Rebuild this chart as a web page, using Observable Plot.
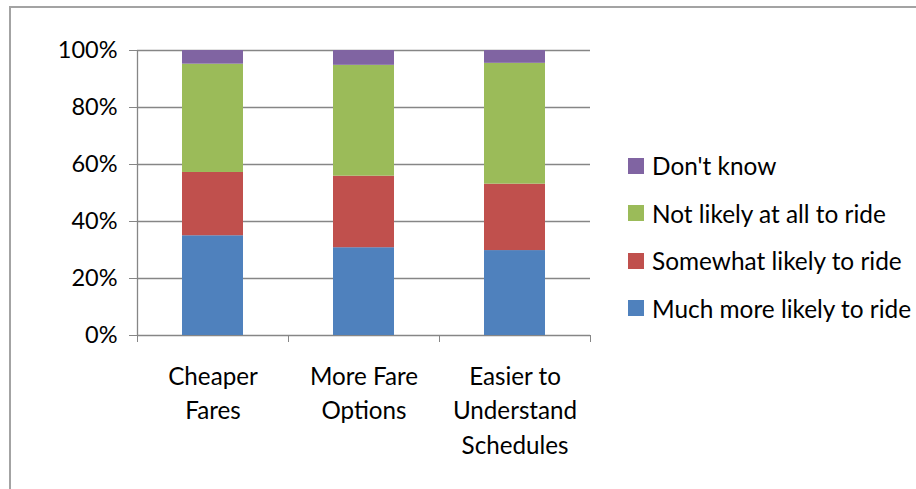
<!DOCTYPE html>
<html>
<head>
<meta charset="utf-8">
<script src="https://cdn.jsdelivr.net/npm/d3@7"></script>
<script src="https://cdn.jsdelivr.net/npm/@observablehq/plot@0.6"></script>
<style>
  html, body { margin: 0; padding: 0; background: #fff; }
  #chart { position: relative; width: 916px; height: 489px; overflow: hidden; font-family: Lato, "Open Sans", sans-serif; }
  #border { position: absolute; left: 9px; top: 6px; width: 1000px; height: 600px; border-top: 2px solid #a3a3a3; border-left: 2px solid #a3a3a3; }
  #chart svg { position: absolute; left: 0; top: 0; }
  #legend { position: absolute; left: 628px; top: 142px; }
  .item { display: flex; align-items: center; height: 47.5px; font-size: 24.4px; color: #000; white-space: nowrap; }
  .sw { width: 16px; height: 16px; margin-right: 8px; flex: none; }
</style>
</head>
<body>
<div id="chart"><div id="border"></div></div>
<script>
// Survey: how fare and schedule changes would affect likelihood to ride
const categories = ["Cheaper\nFares", "More Fare\nOptions", "Easier to\nUnderstand\nSchedules"];
const seriesNames = ["Much more likely to ride", "Somewhat likely to ride", "Not likely at all to ride", "Don't know"];
const seriesColors = ["#4f81bd", "#c0504d", "#9bbb59", "#8064a2"];
const muchMore   = [35.0, 30.8, 29.8];
const somewhat   = [22.2, 25.1, 23.3];
const notLikely  = [38.0, 38.9, 42.4];
const dontKnow   = [4.8, 5.2, 4.5];
const yTicks = [0, 20, 40, 60, 80, 100];

const seriesValues = [muchMore, somewhat, notLikely, dontKnow];
const rows = [];
categories.forEach((c, i) => {
  seriesNames.forEach((s, k) => rows.push({i, category: c, series: s, value: seriesValues[k][i]}));
});

const fs = 23.5;      // value axis labels
const catFs = 24.2;   // category labels
const grid = "#868686";

const plot = Plot.plot({
  width: 916,
  height: 489,
  marginLeft: 137,
  marginRight: 326,
  marginTop: 50,
  marginBottom: 154,
  x: {type: "linear", domain: [0, categories.length], axis: null},
  y: {domain: [0, 100], axis: null},
  color: {domain: seriesNames, range: seriesColors},
  style: {fontFamily: "Lato, 'Open Sans', sans-serif", fontSize: fs + "px", background: "transparent", overflow: "visible"},
  marks: [
    Plot.ruleY(yTicks, {stroke: grid, strokeWidth: 1.3}),
    Plot.rectY(rows, {
      x1: "i",
      x2: d => d.i + 1,
      y: "value",
      fill: "series",
      insetLeft: 45,
      insetRight: 45
    }),
    Plot.ruleX([0], {stroke: grid, strokeWidth: 1.3}),
    Plot.axisY(yTicks, {
      tickSize: 8,
      tickPadding: 12,
      tickFormat: d => d + "%",
      stroke: grid,
      fill: "#000",
      fontSize: fs,
      label: null
    }),
    Plot.axisX(d3.range(categories.length + 1), {
      tickSize: 7,
      tickFormat: () => "",
      stroke: grid,
      label: null
    }),
    Plot.text(categories, {
      x: (d, i) => i + 0.5,
      y: 0,
      text: d => d,
      lineAnchor: "top",
      dy: 25,
      lineHeight: 34.5 / catFs,
      fontSize: catFs,
      fill: "#000"
    })
  ]
});
document.getElementById("chart").appendChild(plot);

// Legend, top entry is the top of the stack
const legend = document.createElement("div");
legend.id = "legend";
seriesNames.slice().reverse().forEach(name => {
  const item = document.createElement("div");
  item.className = "item";
  const sw = document.createElement("span");
  sw.className = "sw";
  sw.style.background = seriesColors[seriesNames.indexOf(name)];
  item.appendChild(sw);
  item.appendChild(document.createTextNode(name));
  legend.appendChild(item);
});
document.getElementById("chart").appendChild(legend);
</script>
</body>
</html>
